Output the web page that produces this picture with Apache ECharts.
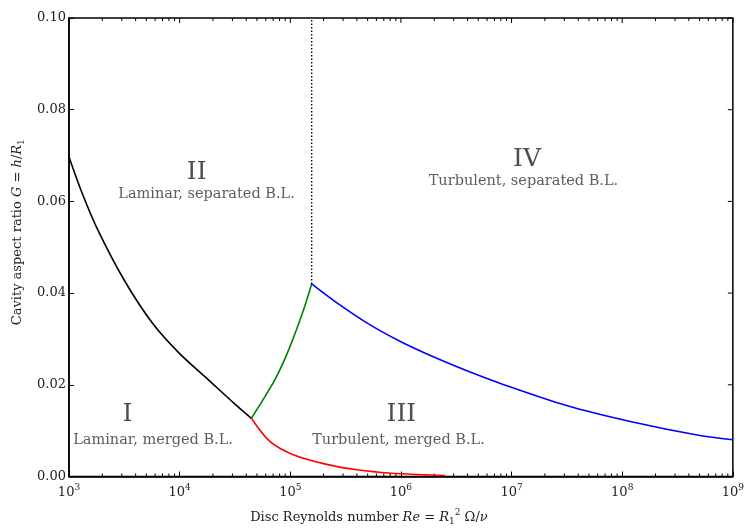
<!DOCTYPE html>
<html>
<head>
<meta charset="utf-8">
<script src="https://cdn.jsdelivr.net/npm/echarts@6/dist/echarts.min.js"></script>
<style>
  html, body { margin: 0; padding: 0; background: #fff; }
  #chart { width: 747px; height: 531px; }
</style>
</head>
<body>
<div id="chart"></div>
<script>
// Flow-regime map of an enclosed rotor-stator cavity: aspect ratio G vs disc Reynolds number Re.

// Boundary I / II (laminar, merged vs separated boundary layers)
const reLamSep = [1000, 1300, 1780, 3160, 5620, 10000, 17800, 31600, 44500];
const gLamSep = [0.0697, 0.0621, 0.0543, 0.0428, 0.0336, 0.0268, 0.0213, 0.0158, 0.0127];

// Boundary II / IV at the upper end of the laminar range
const reTransSep = [44500, 56600, 74500, 98100, 129000, 156000];
const gTransSep = [0.0127, 0.0167, 0.0216, 0.0280, 0.0357, 0.0420];

// Boundary III / IV (turbulent, merged vs separated)
const reTurbSep = [156000, 256000, 509000, 1e6, 2.01e6, 4e6, 7.94e6, 3.13e7, 1.24e8, 4.89e8, 1e9];
const gTurbSep = [0.0420, 0.0381, 0.0333, 0.0294, 0.0260, 0.0230, 0.0203, 0.0155, 0.0119, 0.0090, 0.0080];

// Boundary I / III (laminar to turbulent, merged layers)
const reMerged = [44500, 65000, 105000, 208000, 415000, 824000, 1.5e6, 2.5e6];
const gMerged = [0.0127, 0.0077, 0.0048, 0.0027, 0.0014, 0.0007, 0.0004, 0.00022];

// Critical Reynolds number separating regimes II and IV
const reCritical = 156000;
const gCriticalRange = [0.0420, 0.10];

// Axis ticks
const xTickExponents = [3, 4, 5, 6, 7, 8, 9];
const yTicks = [0.00, 0.02, 0.04, 0.06, 0.08, 0.10];

// Region labels
const regionNumerals = ['I', 'II', 'III', 'IV'];
const regionNotes = ['Laminar, merged B.L.', 'Laminar, separated B.L.', 'Turbulent, merged B.L.', 'Turbulent, separated B.L.'];
const numeralAnchorRe = [3370, 14250, 1.01e6, 1.38e7];
const numeralAnchorG = [0.01345, 0.0664, 0.01345, 0.0692];
const noteAnchorRe = [5750, 17500, 9.5e5, 1.28e7];
const noteAnchorG = [0.0080, 0.0616, 0.0080, 0.0644];

const SERIF = '"DejaVu Serif", "Liberation Serif", serif';
const pairs = (xs, ys) => xs.map((x, i) => [x, ys[i]]);

// Tick positions for the frame: x major + minor (2..9 x each decade), y majors
const xMajor = xTickExponents.map(e => Math.pow(10, e));
const xMinor = [];
for (let e = xTickExponents[0]; e < xTickExponents[xTickExponents.length - 1]; e++) {
  for (let m = 2; m <= 9; m++) xMinor.push(m * Math.pow(10, e));
}
const frameTicks = []
  .concat(xMajor.map(v => [v, 0, 0]))      // kind 0: major x tick
  .concat(xMinor.map(v => [v, 0, 1]))      // kind 1: minor x tick
  .concat(yTicks.map(v => [xMajor[0], v, 2])); // kind 2: y tick on right edge

const tickRich = {
  b: { fontFamily: SERIF, fontSize: 13, color: '#222' },
  s: { fontFamily: SERIF, fontSize: 9, color: '#222', padding: [0, 0, 9, 0] }
};
const nameRich = {
  t: { fontFamily: SERIF, fontSize: 13, color: '#222' },
  i: { fontFamily: SERIF, fontSize: 13, color: '#222', fontStyle: 'italic' },
  sub: { fontFamily: SERIF, fontSize: 9, color: '#222', padding: [8, 0, 0, 0] },
  sup: { fontFamily: SERIF, fontSize: 9, color: '#222', padding: [0, 0, 9, 0] }
};

const frameLine = { show: true, lineStyle: { color: '#000', width: 1.5 } };
const majorTick = { show: true, inside: true, length: 5, lineStyle: { color: '#000', width: 1 } };

const chart = echarts.init(document.getElementById('chart'), null, { renderer: 'canvas' });

chart.setOption({
  animation: false,
  backgroundColor: '#fff',
  grid: {
    left: 69, right: 8, top: 18, bottom: 52, containLabel: false,
    show: true, borderColor: '#000', borderWidth: 1.5, backgroundColor: 'transparent'
  },
  xAxis: {
    type: 'log', logBase: 10,
    min: xMajor[0], max: xMajor[xMajor.length - 1],
    interval: 1,
    axisLine: frameLine, axisTick: majorTick,
    splitLine: { show: false },
    axisLabel: {
      margin: 7,
      formatter: v => '{b|10}{s|' + Math.round(Math.log10(v)) + '}',
      rich: tickRich
    },
    name: '{t|Disc Reynolds number }{i|Re}{t| = }{i|R}{sub|1}{sup|2}{t| Ω/}{i|ν}',
    nameLocation: 'middle', nameGap: 32,
    nameTextStyle: { rich: nameRich, padding: [0, 64, 0, 0] }
  },
  yAxis: {
    type: 'value', min: yTicks[0], max: yTicks[yTicks.length - 1], interval: yTicks[1] - yTicks[0],
    axisLine: frameLine, axisTick: majorTick,
    splitLine: { show: false },
    axisLabel: {
      margin: 3, fontFamily: SERIF, fontSize: 13, color: '#222',
      formatter: v => v.toFixed(2)
    },
    name: '{t|Cavity aspect ratio }{i|G}{t| = }{i|h}{t|/}{i|R}{sub|1}',
    nameLocation: 'middle', nameRotate: 90, nameGap: 42,
    nameTextStyle: { rich: nameRich, padding: [0, 0, 0, 30] }
  },
  series: [
    {
      // inward ticks on the top and right edges, plus log minor ticks on top and bottom
      type: 'custom', silent: true, clip: false,
      data: frameTicks,
      renderItem: (params, api) => {
        const cs = params.coordSys;
        const kind = api.value(2);
        const s = { stroke: '#000', lineWidth: 1 };
        if (kind === 2) {
          const y = api.coord([xMajor[0], api.value(1)])[1];
          const xr = cs.x + cs.width;
          return { type: 'line', shape: { x1: xr, y1: y, x2: xr - 5, y2: y }, style: s };
        }
        const x = api.coord([api.value(0), 0])[0];
        const len = kind === 0 ? 5 : 3;
        const children = [
          { type: 'line', shape: { x1: x, y1: cs.y, x2: x, y2: cs.y + len }, style: s }
        ];
        if (kind === 1) {
          children.push({ type: 'line', shape: { x1: x, y1: cs.y + cs.height, x2: x, y2: cs.y + cs.height - len }, style: s });
        }
        return { type: 'group', children };
      }
    },
    {
      type: 'line', data: pairs(reLamSep, gLamSep), smooth: 0.3, showSymbol: false,
      lineStyle: { color: '#000000', width: 1.6 }
    },
    {
      type: 'line', data: pairs(reTransSep, gTransSep), smooth: 0.3, showSymbol: false,
      lineStyle: { color: '#008000', width: 1.6 }
    },
    {
      type: 'line', data: pairs(reTurbSep, gTurbSep), smooth: 0.3, showSymbol: false,
      lineStyle: { color: '#0000ff', width: 1.6 }
    },
    {
      type: 'line', data: pairs(reMerged, gMerged), smooth: 0.3, showSymbol: false,
      lineStyle: { color: '#ff0000', width: 1.6 }
    },
    {
      type: 'line', data: gCriticalRange.map(g => [reCritical, g]), showSymbol: false,
      lineStyle: { color: '#000', width: 1.4, type: [1.5, 2] }
    },
    {
      type: 'scatter', silent: true, symbolSize: 2, itemStyle: { color: 'rgba(0,0,0,0)' },
      data: regionNumerals.map((t, i) => ({ name: t, value: [numeralAnchorRe[i], numeralAnchorG[i]] })),
      label: {
        show: true, position: 'inside', formatter: p => p.name,
        fontFamily: SERIF, fontSize: 25, color: '#222'
      },
      labelLayout: { hideOverlap: false }
    },
    {
      type: 'scatter', silent: true, symbolSize: 2, itemStyle: { color: 'rgba(0,0,0,0)' },
      data: regionNotes.map((t, i) => ({ name: t, value: [noteAnchorRe[i], noteAnchorG[i]] })),
      label: {
        show: true, position: 'inside', formatter: p => p.name,
        fontFamily: SERIF, fontSize: 14.5, color: '#333'
      },
      labelLayout: { hideOverlap: false }
    }
  ]
});
</script>
</body>
</html>
